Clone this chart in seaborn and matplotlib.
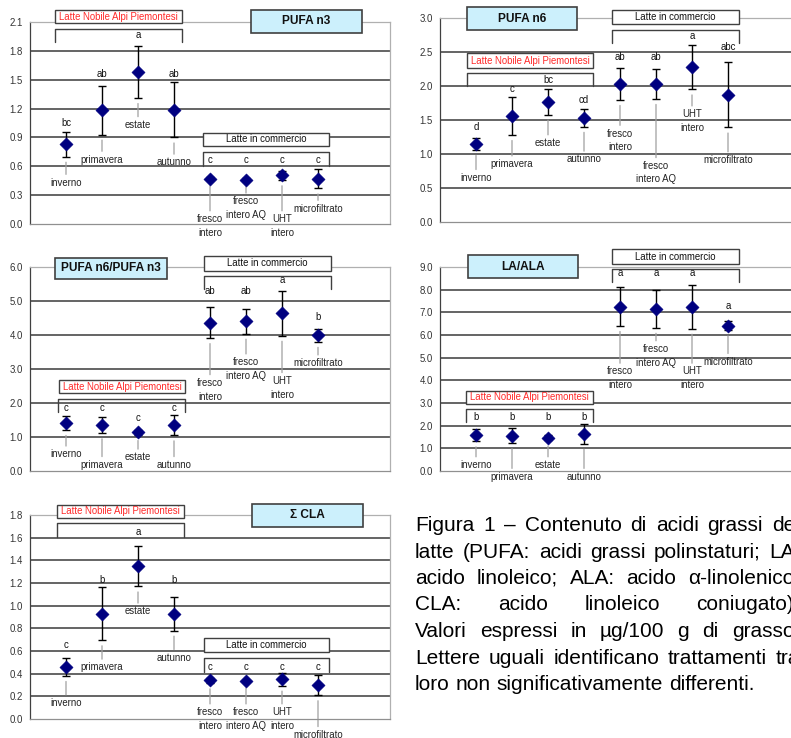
import numpy as np
import pandas as pd
import matplotlib
matplotlib.use("Agg")
import matplotlib.pyplot as plt
import seaborn as sns
from matplotlib.patches import Rectangle
from matplotlib.lines import Line2D

# ---------------- data ----------------
categories = ["inverno", "primavera", "estate", "autunno",
              "fresco intero", "fresco intero AQ", "UHT intero", "microfiltrato"]
cat_labels = ["inverno", "primavera", "estate", "autunno",
              "fresco\nintero", "fresco\nintero AQ", "UHT\nintero", "microfiltrato"]
group_nlap = "Latte Nobile Alpi Piemontesi"
group_comm = "Latte in commercio"

pufa_n3_mean = [0.83, 1.18, 1.58, 1.19, 0.47, 0.46, 0.505, 0.47]
pufa_n3_err = [0.13, 0.25, 0.27, 0.29, 0.015, 0.015, 0.05, 0.10]
pufa_n3_letters = ["bc", "ab", "a", "ab", "c", "c", "c", "c"]

pufa_n6_mean = [1.15, 1.56, 1.77, 1.53, 2.03, 2.03, 2.28, 1.87]
pufa_n6_err = [0.09, 0.28, 0.19, 0.13, 0.235, 0.22, 0.33, 0.48]
pufa_n6_letters = ["d", "c", "bc", "cd", "ab", "ab", "a", "abc"]

n6n3_mean = [1.42, 1.35, 1.14, 1.35, 4.36, 4.40, 4.64, 3.99]
n6n3_err = [0.21, 0.24, 0.08, 0.30, 0.45, 0.36, 0.66, 0.19]
n6n3_letters = ["c", "c", "c", "c", "ab", "ab", "a", "b"]

la_ala_mean = [1.59, 1.56, 1.47, 1.63, 7.25, 7.15, 7.25, 6.40]
la_ala_err = [0.28, 0.33, 0.12, 0.43, 0.85, 0.83, 0.97, 0.20]
la_ala_letters = ["b", "b", "b", "b", "a", "a", "a", "a"]

cla_mean = [0.46, 0.93, 1.35, 0.93, 0.34, 0.335, 0.35, 0.30]
cla_err = [0.08, 0.235, 0.18, 0.15, 0.025, 0.012, 0.055, 0.09]
cla_letters = ["c", "b", "a", "b", "c", "c", "c", "c"]

titles = ["PUFA n3", "PUFA n6", "PUFA n6/PUFA n3", "LA/ALA", "Σ CLA"]

caption_lines = [
    "Figura 1 – Contenuto di acidi grassi del",
    "latte (PUFA: acidi grassi polinstaturi; LA:",
    "acido linoleico; ALA: acido α-linolenico;",
    "CLA: acido linoleico coniugato).",
    "Valori espressi in µg/100 g di grasso.",
    "Lettere uguali identificano trattamenti tra",
    "loro non significativamente differenti.",
]

# ---------------- layout (pixels) ----------------
W, H = 791, 738
layout = [
    dict(axes=(30, 390, 22, 224), ymax=2.1, step=0.3,
         letter_y=[1.05, 1.56, 1.96, 1.56, 0.67, 0.67, 0.67, 0.67],
         label_y=[0.43, 0.67, 1.03, 0.64, -0.02, 0.165, -0.02, 0.16],
         title_box=(251, 362, 10, 33),
         nlap_box=(55, 182, 10, 23), nlap_br=(55, 182, 29, 42),
         comm_box=(203, 329, 133, 146), comm_br=(203, 329, 152, 166)),
    dict(axes=(440, 800, 18, 222), ymax=3.0, step=0.5,
         letter_y=[1.39, 1.96, 2.09, 1.79, 2.42, 2.42, 2.74, 2.57],
         label_y=[0.65, 0.85, 1.16, 0.92, 1.20, 0.725, 1.485, 0.91],
         title_box=(467, 577, 7, 30),
         nlap_box=(467, 593, 53, 68), nlap_br=(467, 593, 73, 86),
         comm_box=(612, 739, 10, 24), comm_br=(612, 739, 30, 43)),
    dict(axes=(30, 390, 267, 471), ymax=6.0, step=1.0,
         letter_y=[1.84, 1.84, 1.57, 1.84, 5.28, 5.28, 5.63, 4.54],
         label_y=[0.49, 0.18, 0.40, 0.18, 2.39, 3.0, 2.45, 3.17],
         title_box=(55, 167, 258, 279),
         nlap_box=(59, 185, 380, 393), nlap_br=(58, 185, 399, 412),
         comm_box=(204, 331, 256, 271), comm_br=(204, 331, 276, 289)),
    dict(axes=(440, 800, 267, 471), ymax=9.0, step=1.0,
         letter_y=[2.37, 2.37, 2.37, 2.37, 8.72, 8.72, 8.72, 7.28],
         label_y=[0.26, -0.25, 0.26, -0.25, 4.09, 5.08, 4.09, 4.82],
         title_box=(468, 578, 255, 278),
         nlap_box=(466, 593, 391, 404), nlap_br=(466, 593, 409, 422),
         comm_box=(612, 739, 249, 264), comm_br=(612, 739, 269, 282)),
    dict(axes=(30, 390, 515, 719), ymax=1.8, step=0.2,
         letter_y=[0.65, 1.23, 1.65, 1.23, 0.46, 0.46, 0.46, 0.46],
         label_y=[0.14, 0.455, 0.95, 0.54, 0.0, 0.0, 0.0, -0.14],
         title_box=(252, 363, 504, 527),
         nlap_box=(57, 184, 505, 518), nlap_br=(57, 184, 523, 537),
         comm_box=(204, 329, 638, 652), comm_br=(204, 329, 658, 672)),
]
series = [
    (pufa_n3_mean, pufa_n3_err, pufa_n3_letters),
    (pufa_n6_mean, pufa_n6_err, pufa_n6_letters),
    (n6n3_mean, n6n3_err, n6n3_letters),
    (la_ala_mean, la_ala_err, la_ala_letters),
    (cla_mean, cla_err, cla_letters),
]

sns.set_style("white")
plt.rcParams["font.family"] = ["Liberation Sans", "DejaVu Sans"]

fig = plt.figure(figsize=(W / 100, H / 100), dpi=100)
fig.patch.set_facecolor("white")


def fx(px):
    return px / W


def fy(py):
    return 1 - py / H


def box(rect, text, color="#111111", fill="white", weight="normal", size=6.9, lw=1.0):
    x0, x1, y0, y1 = rect
    fig.add_artist(Rectangle((fx(x0), fy(y1)), (x1 - x0) / W, (y1 - y0) / H,
                             transform=fig.transFigure, facecolor=fill,
                             edgecolor="#404040", lw=lw, zorder=5))
    fig.text(fx((x0 + x1) / 2), fy((y0 + y1) / 2), text, ha="center", va="center",
             color=color, fontsize=size, fontweight=weight, zorder=6)


def bracket(rect):
    x0, x1, top, bot = rect
    fig.add_artist(Line2D([fx(x0), fx(x0), fx(x1), fx(x1)],
                          [fy(bot), fy(top), fy(top), fy(bot)],
                          transform=fig.transFigure, color="#404040", lw=1.0,
                          zorder=5))


positions = np.arange(1, len(categories) + 1)

for (mean, err, letters), lay, title in zip(series, layout, titles):
    l, r, t, b = lay["axes"]
    ax = fig.add_axes([fx(l), fy(b), (r - l) / W, (b - t) / H])
    ax.set_facecolor("none")
    df = pd.DataFrame({"pos": positions, "mean": mean, "err": err, "cat": categories})

    ax.errorbar(df["pos"], df["mean"], yerr=df["err"], fmt="none", ecolor="black",
                elinewidth=1.0, capsize=3, capthick=1.0, zorder=3)
    sns.scatterplot(data=df, x="pos", y="mean", marker="D", s=46, color="#000080",
                    edgecolor="#000080", linewidth=0.3, legend=False, ax=ax, zorder=4)

    ymax, step = lay["ymax"], lay["step"]
    ax.set_xlim(0, 10)
    ax.set_ylim(0, ymax)
    ticks = np.round(np.arange(0, ymax + step / 2, step), 2)
    ax.set_yticks(ticks)
    ax.set_yticklabels([f"{v:.1f}" for v in ticks])
    ax.set_xticks([])
    ax.set_xlabel("")
    ax.set_ylabel("")
    for v in ticks[1:-1]:
        ax.axhline(v, color="#3a3a3a", lw=1.1, zorder=1)
    ax.tick_params(axis="y", direction="out", length=3, width=0.8, color="#404040",
                   labelsize=6.9, labelcolor="#333333", pad=2)
    ax.spines["left"].set_color("#404040")
    ax.spines["left"].set_linewidth(0.9)
    ax.spines["bottom"].set_color("#909090")
    ax.spines["bottom"].set_linewidth(0.9)
    for s in ("top", "right"):
        ax.spines[s].set_color("#b0b0b0")
        ax.spines[s].set_linewidth(0.9)

    for p, m, e, lab, ly, let, lty in zip(positions, mean, err, cat_labels,
                                           lay["label_y"], letters, lay["letter_y"]):
        ax.annotate(lab, xy=(p, m - e), xytext=(p, ly), textcoords="data",
                    ha="center", va="center", fontsize=6.9, color="#222222",
                    linespacing=1.45, annotation_clip=False,
                    arrowprops=dict(arrowstyle="-", color="#a0a0a0", lw=0.9,
                                    shrinkA=0, shrinkB=4), zorder=2)
        ax.text(p, lty, let, ha="center", va="center", fontsize=6.9,
                color="#111111", zorder=6)

    box(lay["title_box"], title, color="#111111", fill="#ccf0fc", weight="bold",
        size=8.6, lw=1.2)
    box(lay["nlap_box"], group_nlap, color="#ff2a2a")
    bracket(lay["nlap_br"])
    box(lay["comm_box"], group_comm, color="#111111")
    bracket(lay["comm_br"])

# ---------------- caption (justified) ----------------
renderer = fig.canvas.get_renderer()
cap_x0, cap_right = 415, 800
cap_base0, cap_step = 531, 26.5
for i, line in enumerate(caption_lines):
    words = line.split(" ")
    yb = cap_base0 + i * cap_step
    txts = [fig.text(0, fy(yb), w, fontsize=15, color="black", ha="left",
                     va="baseline") for w in words]
    widths = [tx.get_window_extent(renderer).width for tx in txts]
    justify = i < len(caption_lines) - 1
    if justify and len(words) > 1:
        gap = (cap_right - cap_x0 - sum(widths)) / (len(words) - 1)
    else:
        gap = 15 * 100 / 72 * 0.278
    x = cap_x0
    for tx, w in zip(txts, widths):
        tx.set_position((fx(x), fy(yb)))
        x += w + gap

fig.savefig("out.png", dpi=100, facecolor="white")
